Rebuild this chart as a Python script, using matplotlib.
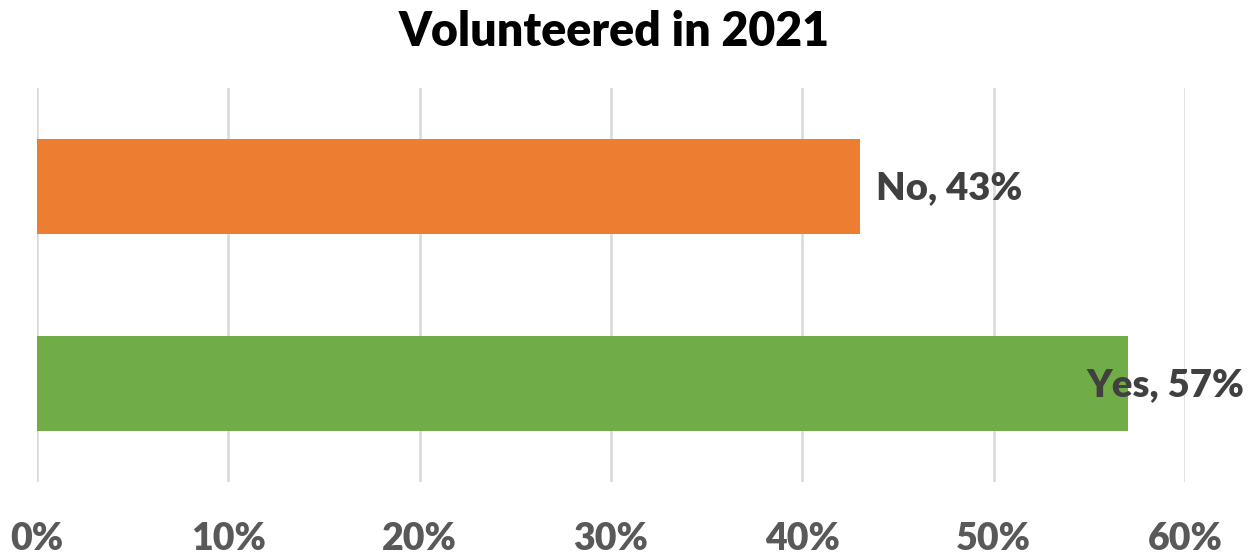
import matplotlib.pyplot as plt
from matplotlib.ticker import PercentFormatter

plt.rcParams['font.family'] = ['Lato', 'DejaVu Sans']

# Umfragedaten
antworten = ["Yes", "No"]
anteile = [0.57, 0.43]
farben = ["#70AD47", "#ED7D31"]
ticks = [0.0, 0.1, 0.2, 0.3, 0.4, 0.5, 0.6]

# Versatz der Beschriftungen in Pixeln (Yes wird nach links gezogen)
versatz = [-41, 16]

fig = plt.figure(figsize=(12.53, 5.54), dpi=100)
ax = fig.add_axes([37 / 1253, 1 - 482 / 554, 1148 / 1253, 394 / 554])

y = range(len(antworten))
ax.barh(y, anteile, height=0.48, color=farben, zorder=3)

for i, (name, wert) in enumerate(zip(antworten, anteile)):
    ax.annotate(f"{name}, {wert:.0%}", xy=(wert, i), xytext=(versatz[i], -2),
                textcoords="offset pixels", ha="left", va="center",
                fontsize=27.5, fontweight="heavy", color="#404040", zorder=4)

ax.set_xlim(0, 0.6)
ax.set_ylim(-0.5, 1.5)
ax.set_xticks(ticks)
ax.xaxis.set_major_formatter(PercentFormatter(1.0, decimals=0))
ax.set_yticks([])
ax.grid(axis="x", color="#D9D9D9", linewidth=1.8, zorder=0)
for s in ax.spines.values():
    s.set_visible(False)
ax.tick_params(axis="x", length=0, pad=29, labelsize=27, labelcolor="#595959")
for lbl in ax.get_xticklabels():
    lbl.set_fontweight("heavy")

fig.text(614 / 1253, 1 - 32 / 554, "Volunteered in 2021", ha="center", va="center",
         fontsize=33.5, fontweight="heavy", color="black")

fig.savefig("out.png", dpi=100)
